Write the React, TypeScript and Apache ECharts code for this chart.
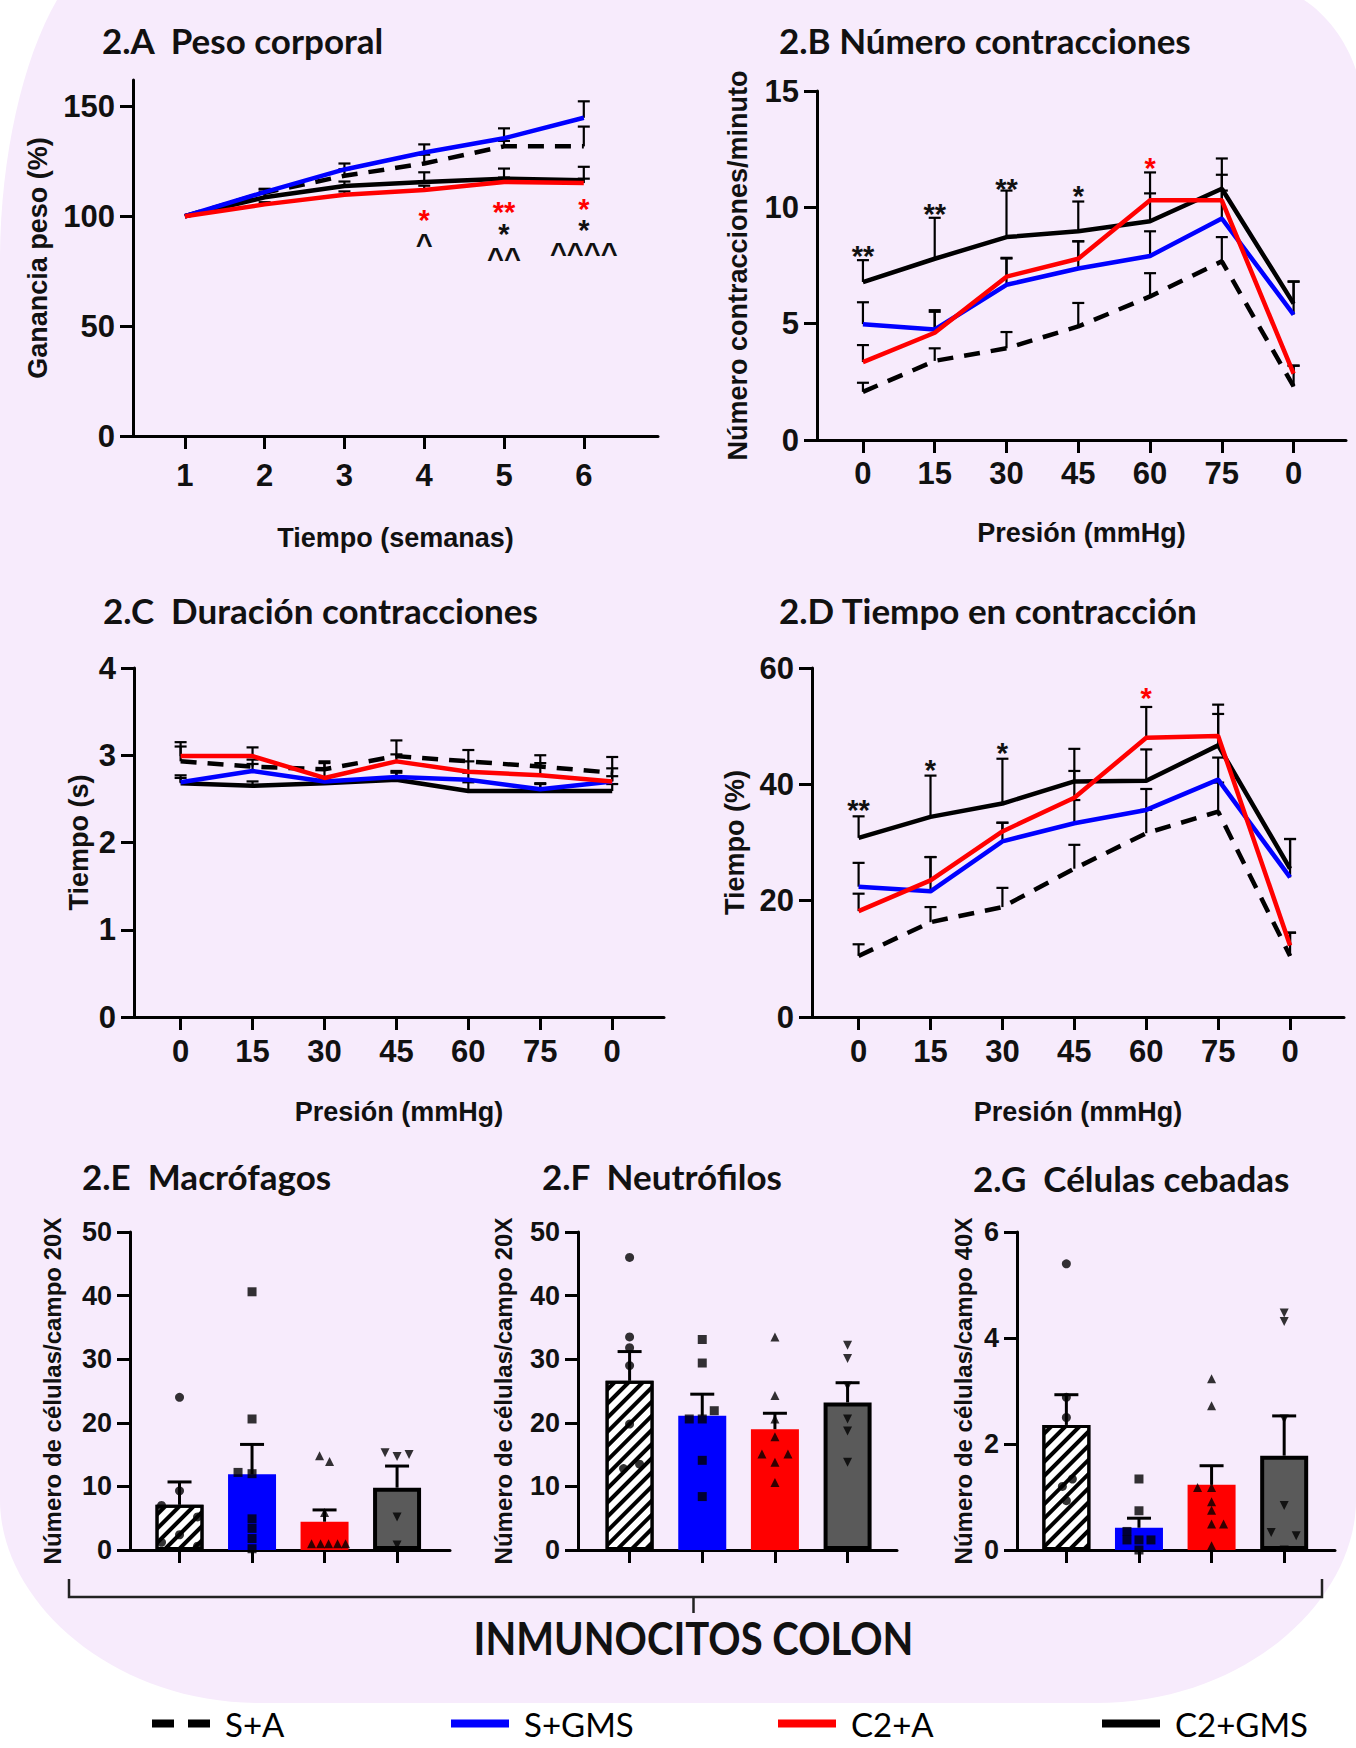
import React, { useEffect, useRef } from "react";
import * as echarts from "echarts";

/* ---------------- categories, ticks ---------------- */
const groupNames = ["S+A", "S+GMS", "C2+A", "C2+GMS"];
const weeks = [1, 2, 3, 4, 5, 6];
const pressureLabels = ["0", "15", "30", "45", "60", "75", "0"];
const pressureIdx = [0, 1, 2, 3, 4, 5, 6];
const barIdx = [0, 1, 2, 3];

const ticksA = [0, 50, 100, 150];
const ticksB = [0, 5, 10, 15];
const ticksC = [0, 1, 2, 3, 4];
const ticksD = [0, 20, 40, 60];
const ticksEF = [0, 10, 20, 30, 40, 50];
const ticksG = [0, 2, 4, 6];

/* ---------------- 2.A Peso corporal (mean, SEM) ---------------- */
const pesoSA = [100, 110.7, 118.4, 124.0, 131.8, 131.8];
const pesoSA_sem = [0, 1.5, 3.0, 4.0, 2.5, 9.0];
const pesoSGMS = [100, 111.0, 121.3, 129.0, 135.5, 144.8];
const pesoSGMS_sem = [0, 1.5, 2.7, 3.7, 4.5, 7.5];
const pesoC2A = [100, 105.4, 109.8, 111.9, 115.6, 115.1];
const pesoC2A_sem = [0, 1.0, 1.5, 2.0, 2.0, 2.0];
const pesoC2GMS = [100, 108.6, 113.8, 115.6, 117.1, 116.4];
const pesoC2GMS_sem = [0, 2.5, 2.0, 4.4, 4.6, 6.1];
const annotA_red = [[4, 101.3, "*"], [5, 105.0, "**"], [6, 106.7, "*"]];
const annotA_black = [[4, 90.7, "^"], [5, 95.0, "*"], [5, 84.0, "^^"], [6, 97.0, "*"], [6, 86.6, "^^^^"]];

/* ---------------- 2.B Número contracciones ---------------- */
const numSA = [2.07, 3.4, 3.94, 4.88, 6.17, 7.68, 2.3];
const numSA_sem = [0.39, 0.54, 0.7, 1.01, 1.0, 1.04, 0.89];
const numSGMS = [4.98, 4.75, 6.67, 7.37, 7.91, 9.52, 5.39];
const numSGMS_sem = [0.94, 0.83, 1.13, 1.17, 1.06, 1.2, 1.41];
const numC2A = [3.35, 4.61, 7.02, 7.79, 10.3, 10.3, 2.85];
const numC2A_sem = [0.73, 0.9, 0.81, 0.75, 1.2, 1.1, 0.35];
const numC2GMS = [6.79, 7.79, 8.72, 8.97, 9.4, 10.8, 5.86];
const numC2GMS_sem = [0.94, 1.76, 2.0, 1.28, 1.2, 1.3, 0.96];
const annotB_black = [[0, 8.2, "**"], [1, 10.0, "**"], [2, 11.1, "**"], [3, 10.8, "*"]];
const annotB_red = [[4, 12.0, "*"]];

/* ---------------- 2.C Duración contracciones ---------------- */
const durSA = [2.93, 2.87, 2.84, 2.99, 2.93, 2.87, 2.80];
const durSA_sem = [0.17, 0.08, 0.09, 0.18, 0.13, 0.13, 0.18];
const durSGMS = [2.69, 2.82, 2.70, 2.75, 2.72, 2.61, 2.70];
const durSGMS_sem = [0.08, 0.08, 0.05, 0.07, 0.08, 0.07, 0.06];
const durC2A = [2.99, 2.99, 2.74, 2.93, 2.81, 2.77, 2.70];
const durC2A_sem = [0.16, 0.1, 0.17, 0.08, 0.12, 0.14, 0.15];
const durC2GMS = [2.68, 2.65, 2.68, 2.72, 2.59, 2.59, 2.59];
const durC2GMS_sem = [0.06, 0.05, 0.05, 0.08, 0.1, 0.08, 0.08];

/* ---------------- 2.D Tiempo en contracción ---------------- */
const tieSA = [10.5, 16.3, 18.9, 25.5, 31.6, 35.3, 10.5];
const tieSA_sem = [2.0, 2.6, 3.3, 4.1, 4.0, 5.0, 4.0];
const tieSGMS = [22.4, 21.6, 30.2, 33.3, 35.6, 40.8, 24.0];
const tieSGMS_sem = [4.1, 5.9, 3.2, 4.0, 3.6, 3.8, 6.6];
const tieC2A = [18.2, 23.5, 31.9, 37.7, 48.0, 48.3, 12.3];
const tieC2A_sem = [3.0, 4.0, 1.5, 4.6, 5.3, 3.8, 2.2];
const tieC2GMS = [30.8, 34.4, 36.7, 40.5, 40.6, 46.7, 25.5];
const tieC2GMS_sem = [3.7, 7.1, 7.7, 5.6, 5.4, 7.0, 5.1];
const annotD_black = [[0, 36.8, "**"], [1, 43.6, "*"], [2, 46.6, "*"]];
const annotD_red = [[4, 56.0, "*"]];

/* ---------------- 2.E Macrófagos ---------------- */
const macroMean = [7.1, 11.9, 4.45, 9.8];
const macroSem = [3.6, 4.7, 1.85, 3.4];
const macroPts = [
  [24.0, 9.3, 7.0, 5.2, 2.4, 1.2, 0.6],
  [40.6, 20.6, 12.2, 12.0, 4.9, 3.4, 1.8, 0.2],
  [14.8, 13.9, 5.9, 1.0, 1.0, 1.0, 1.0, 1.0],
  [15.3, 14.7, 15.0, 5.2, 0.8],
];
const macroJit = [
  [0, 0, -18, 18, 0, -18, 18],
  [0, 0, -14, 0, 0, 0, 0, 0],
  [-5, 5, 0, -13, -4, 4, 13, 21],
  [-12, 0, 12, 0, 0],
];

/* ---------------- 2.F Neutrófilos ---------------- */
const neutroMean = [26.6, 21.1, 19.0, 23.2];
const neutroSem = [4.6, 3.4, 2.5, 3.1];
const neutroPts = [
  [46.0, 33.5, 31.8, 29.0, 19.8, 13.5, 12.8],
  [33.1, 29.4, 21.9, 20.6, 20.6, 14.1, 8.4],
  [33.5, 24.3, 20.6, 17.8, 15.1, 15.1, 13.8, 10.6],
  [32.2, 30.1, 25.8, 20.6, 18.7, 13.8],
];
const neutroJit = [
  [0, 0, 0, 0, 0, 10, -6],
  [0, 0, 12, -13, 0, 0, 0],
  [0, 0, 0, 0, -13, 13, 0, 0],
  [0, 0, 0, 0, 0, 0],
];

/* ---------------- 2.G Células cebadas ---------------- */
const cebMean = [2.36, 0.42, 1.23, 1.78];
const cebSem = [0.57, 0.18, 0.36, 0.75];
const cebPts = [
  [5.4, 2.88, 2.5, 1.34, 1.2, 0.93],
  [1.34, 0.74, 0.35, 0.19, 0.19, 0.19, 0.0],
  [3.23, 2.72, 1.18, 1.18, 0.91, 0.75, 0.49, 0.49, 0.08],
  [4.47, 4.31, 2.47, 0.84, 0.33, 0.27, 0.0],
];
const cebJit = [
  [0, 0, 0, 6, -4, 0],
  [0, 0, -12, -12, 0, 12, 0],
  [0, 0, -14, 0, 0, 0, 0, 12, 0],
  [0, 0, 0, 0, -13, 12, 0],
];

/* ---------------- styles ---------------- */
const BLUE = "#0000ff";
const RED = "#ff0000";
const BLACK = "#000000";
const GREY = "#5a5a5a";
const LAV = "#f7ebfc";
const NUM_FONT = "'Liberation Sans', Arial, Helvetica, sans-serif";
const TITLE_FONT = "Lato, 'Open Sans', sans-serif";
const lineColors = [BLACK, BLUE, RED, BLACK];
const lineTypes: any[] = [[16, 11], "solid", "solid", "solid"];
const legendIcons = ["path://M0,0H22V8H0Z M36,0H58V8H36Z", "rect", "rect", "rect"];
const pointSymbols = ["circle", "rect", "triangle", "triangle"];
const pointRotate = [0, 0, 0, 180];
const hatchDecal = {
  symbol: "rect",
  symbolSize: 1,
  dashArrayX: [1, 0],
  dashArrayY: [4, 6],
  rotation: -Math.PI / 4,
  color: "#000",
  backgroundColor: "#fff",
};
const barStyles: any[] = [
  { color: "#fff", borderColor: "#000", borderWidth: 3, decal: hatchDecal },
  { color: BLUE },
  { color: RED },
  { color: GREY, borderColor: "#000", borderWidth: 4 },
];

const BG_PATH =
  "M57 0 L1304 0 C1326 14 1346 40 1356 70 L1356 1500 C1356 1600 1246 1703 1096 1703 L260 1703 C110 1703 0 1600 0 1500 L0 260 C0 160 22 60 57 0 Z";

const errRender = (capHalf: number, lw: number) => (params: any, api: any) => {
  const x = api.value(0);
  const y = api.value(1);
  const e = api.value(2);
  if (!e) return { type: "group", children: [] };
  const p0 = api.coord([x, y]);
  const p1 = api.coord([x, y + e]);
  const style = { stroke: "#000", lineWidth: lw };
  return {
    type: "group",
    children: [
      { type: "line", shape: { x1: p0[0], y1: p0[1], x2: p1[0], y2: p1[1] }, style },
      { type: "line", shape: { x1: p1[0] - capHalf, y1: p1[1], x2: p1[0] + capHalf, y2: p1[1] }, style },
    ],
  };
};

const annotRender = (list: any[], color: string) => (params: any, api: any) => {
  const a = list[params.dataIndex];
  const p = api.coord([a[0], a[1]]);
  return {
    type: "text",
    x: p[0],
    y: p[1] + 7,
    style: {
      text: a[2],
      fill: color,
      fontFamily: NUM_FONT,
      fontWeight: "bold",
      fontSize: 29,
      lineHeight: 20,
      align: "center",
      verticalAlign: "middle",
    },
  };
};

function buildOption() {
  const grid: any[] = [];
  const xAxis: any[] = [];
  const yAxis: any[] = [];
  const series: any[] = [];

  const axisLine = { show: true, onZero: false, lineStyle: { color: "#000", width: 3 } };
  const tickStyle = { color: "#000", width: 3 };
  const nameStyle = (size: number) => ({ fontFamily: NUM_FONT, fontWeight: "bold", fontSize: size, color: "#111" });

  const linePanels = [
    {
      grid: { left: 133, top: 80, width: 525, height: 356 },
      xMin: 0.35, xMax: 6.93, xs: weeks, fmt: (v: number) => String(Math.round(v)),
      yMax: 162, yTicks: ticksA, xMargin: 24,
      yName: "Ganancia peso (%)", yGap: 82, xName: "Tiempo (semanas)", xGap: 88,
      data: [pesoSA, pesoSGMS, pesoC2A, pesoC2GMS],
      sems: [pesoSA_sem, pesoSGMS_sem, pesoC2A_sem, pesoC2GMS_sem],
      annBlack: annotA_black, annRed: annotA_red,
    },
    {
      grid: { left: 817, top: 91, width: 529, height: 349 },
      xMin: -0.64, xMax: 6.73, xs: pressureIdx, fmt: (v: number) => pressureLabels[Math.round(v)],
      yMax: 15, yTicks: ticksB, xMargin: 18,
      yName: "Número contracciones/minuto", yGap: 66, xName: "Presión (mmHg)", xGap: 79,
      data: [numSA, numSGMS, numC2A, numC2GMS],
      sems: [numSA_sem, numSGMS_sem, numC2A_sem, numC2GMS_sem],
      annBlack: annotB_black, annRed: annotB_red,
    },
    {
      grid: { left: 134, top: 668, width: 530, height: 349 },
      xMin: -0.648, xMax: 6.72, xs: pressureIdx, fmt: (v: number) => pressureLabels[Math.round(v)],
      yMax: 4, yTicks: ticksC, xMargin: 19,
      yName: "Tiempo (s)", yGap: 42, xName: "Presión (mmHg)", xGap: 81,
      data: [durSA, durSGMS, durC2A, durC2GMS],
      sems: [durSA_sem, durSGMS_sem, durC2A_sem, durC2GMS_sem],
      annBlack: [], annRed: [],
    },
    {
      grid: { left: 812, top: 668, width: 532, height: 349 },
      xMin: -0.648, xMax: 6.75, xs: pressureIdx, fmt: (v: number) => pressureLabels[Math.round(v)],
      yMax: 60, yTicks: ticksD, xMargin: 19,
      yName: "Tiempo (%)", yGap: 64, xName: "Presión (mmHg)", xGap: 81,
      data: [tieSA, tieSGMS, tieC2A, tieC2GMS],
      sems: [tieSA_sem, tieSGMS_sem, tieC2A_sem, tieC2GMS_sem],
      annBlack: annotD_black, annRed: annotD_red,
    },
  ];

  const drawOrder = [0, 3, 1, 2];

  linePanels.forEach((p) => {
    const gi = grid.length;
    grid.push({ ...p.grid, containLabel: false, outerBoundsMode: "none" });
    xAxis.push({
      type: "value", gridIndex: gi, min: p.xMin, max: p.xMax,
      axisLine,
      axisTick: { show: true, length: 13, lineStyle: tickStyle, customValues: p.xs },
      axisLabel: {
        customValues: p.xs, formatter: p.fmt, fontFamily: NUM_FONT, fontWeight: "bold",
        fontSize: 31, color: "#111", margin: p.xMargin,
      },
      splitLine: { show: false },
      name: p.xName, nameLocation: "middle", nameGap: p.xGap, nameTextStyle: nameStyle(27),
    });
    yAxis.push({
      type: "value", gridIndex: gi, min: 0, max: p.yMax,
      axisLine,
      axisTick: { show: true, length: 13, lineStyle: tickStyle, customValues: p.yTicks },
      axisLabel: {
        customValues: p.yTicks, fontFamily: NUM_FONT, fontWeight: "bold",
        fontSize: 31, color: "#111", margin: 18,
      },
      splitLine: { show: false },
      name: p.yName, nameLocation: "middle", nameGap: p.yGap, nameTextStyle: nameStyle(27),
    });
    drawOrder.forEach((g) => {
      series.push({
        type: "custom", name: "err " + groupNames[g], xAxisIndex: gi, yAxisIndex: gi, z: 2, silent: true,
        renderItem: errRender(6, 2.2), encode: { x: 0, y: 1 },
        data: p.xs.map((x, i) => [x, p.data[g][i], p.sems[g][i]]),
      });
    });
    drawOrder.forEach((g, k) => {
      series.push({
        type: "line", name: groupNames[g], xAxisIndex: gi, yAxisIndex: gi, z: 3 + k,
        symbol: "none", silent: true,
        lineStyle: { color: lineColors[g], width: 4.5, type: lineTypes[g] },
        itemStyle: { color: lineColors[g] },
        data: p.xs.map((x, i) => [x, p.data[g][i]]),
      });
    });
    if (p.annBlack.length) {
      series.push({
        type: "custom", name: "sig", xAxisIndex: gi, yAxisIndex: gi, z: 8, silent: true,
        renderItem: annotRender(p.annBlack, "#111"), encode: { x: 0, y: 1 },
        data: p.annBlack.map((a: any) => [a[0], a[1]]),
      });
    }
    if (p.annRed.length) {
      series.push({
        type: "custom", name: "sig red", xAxisIndex: gi, yAxisIndex: gi, z: 8, silent: true,
        renderItem: annotRender(p.annRed, RED), encode: { x: 0, y: 1 },
        data: p.annRed.map((a: any) => [a[0], a[1]]),
      });
    }
  });

  const barPanels = [
    {
      grid: { left: 130, top: 1232, width: 320, height: 318 }, xMin: -0.683, xMax: 3.73,
      yMax: 50, yTicks: ticksEF, yName: "Número de células/campo 20X", yGap: 66,
      means: macroMean, sems: macroSem, pts: macroPts, jit: macroJit,
    },
    {
      grid: { left: 578, top: 1232, width: 319, height: 318 }, xMin: -0.71, xMax: 3.68,
      yMax: 50, yTicks: ticksEF, yName: "Número de células/campo 20X", yGap: 63,
      means: neutroMean, sems: neutroSem, pts: neutroPts, jit: neutroJit,
    },
    {
      grid: { left: 1017, top: 1232, width: 318, height: 318 }, xMin: -0.68, xMax: 3.7,
      yMax: 6, yTicks: ticksG, yName: "Número de células/campo 40X", yGap: 42,
      means: cebMean, sems: cebSem, pts: cebPts, jit: cebJit,
    },
  ];

  barPanels.forEach((p) => {
    const gi = grid.length;
    grid.push({ ...p.grid, containLabel: false, outerBoundsMode: "none" });
    xAxis.push({
      type: "value", gridIndex: gi, min: p.xMin, max: p.xMax,
      axisLine,
      axisTick: { show: true, length: 13, lineStyle: tickStyle, customValues: barIdx },
      axisLabel: { show: false },
      splitLine: { show: false },
    });
    yAxis.push({
      type: "value", gridIndex: gi, min: 0, max: p.yMax,
      axisLine,
      axisTick: { show: true, length: 13, lineStyle: tickStyle, customValues: p.yTicks },
      axisLabel: {
        customValues: p.yTicks, fontFamily: NUM_FONT, fontWeight: "bold",
        fontSize: 27, color: "#111", margin: 18,
      },
      splitLine: { show: false },
      name: p.yName, nameLocation: "middle", nameGap: p.yGap, nameTextStyle: nameStyle(24),
    });
    series.push({
      type: "bar", name: "Inmunocitos", xAxisIndex: gi, yAxisIndex: gi, barWidth: 48, z: 2, silent: true,
      data: p.means.map((m, i) => ({ value: [barIdx[i], m], itemStyle: barStyles[i] })),
    });
    series.push({
      type: "custom", name: "err bar", xAxisIndex: gi, yAxisIndex: gi, z: 3, silent: true,
      renderItem: errRender(12, 3), encode: { x: 0, y: 1 },
      data: barIdx.map((i) => [i, p.means[i], p.sems[i]]),
    });
    barIdx.forEach((g) => {
      series.push({
        type: "scatter", name: "pts " + groupNames[g], xAxisIndex: gi, yAxisIndex: gi, z: 4, silent: true,
        symbol: pointSymbols[g], symbolRotate: pointRotate[g], symbolSize: 9,
        itemStyle: { color: "#000" },
        data: p.pts[g].map((v, j) => ({ value: [g, v], symbolOffset: [p.jit[g][j], 0] })),
      });
    });
  });

  const legendLeft = [147, 446, 773, 1097];
  const legend = groupNames.map((n, i) => ({
    data: [n], left: legendLeft[i], top: 1702, orient: "horizontal",
    icon: legendIcons[i],
    itemWidth: 58, itemHeight: 8, itemGap: 0, selectedMode: false,
    itemStyle: { color: lineColors[i], borderWidth: 0 },
    textStyle: { fontFamily: TITLE_FONT, fontSize: 33, color: "#000", padding: [0, 0, 0, 10] },
  }));

  const titles: [string, number, number][] = [
    ["2.A  Peso corporal", 102, 40],
    ["2.B Número contracciones", 779, 40],
    ["2.C  Duración contracciones", 103, 610],
    ["2.D Tiempo en contracción", 779, 610],
    ["2.E  Macrófagos", 82, 1176],
    ["2.F  Neutrófilos", 542, 1176],
    ["2.G  Células cebadas", 973, 1178],
  ];

  const graphic: any[] = [
    { type: "bgshape", x: 0, y: 0, z: -100, silent: true, style: { fill: LAV } },
    ...titles.map(([t, x, y]) => ({
      type: "text", x, y, z: 10, silent: true,
      style: { text: t, fill: "#111", fontFamily: TITLE_FONT, fontWeight: "bold", fontSize: 35, align: "left", verticalAlign: "middle" },
    })),
    {
      type: "polyline", z: 10, silent: true,
      shape: { points: [[69, 1579], [69, 1597], [1322, 1597], [1322, 1579]] },
      style: { stroke: "#222", lineWidth: 2.5, fill: null },
    },
    {
      type: "line", z: 10, silent: true,
      shape: { x1: 693.5, y1: 1597, x2: 693.5, y2: 1613 },
      style: { stroke: "#222", lineWidth: 2.5 },
    },
    {
      type: "text", x: 693.5, y: 1637, z: 10, scaleX: 0.87, silent: true,
      style: { text: "INMUNOCITOS COLON", fill: "#111", fontFamily: TITLE_FONT, fontWeight: "bold", fontSize: 46, align: "center", verticalAlign: "middle" },
    },
  ];

  return {
    animation: false,
    backgroundColor: "#ffffff",
    textStyle: { fontFamily: NUM_FONT },
    grid, xAxis, yAxis, series, legend, graphic,
  };
}

export default function App() {
  const ref = useRef<HTMLDivElement>(null);
  useEffect(() => {
    document.body.style.margin = "0";
    document.body.style.overflow = "hidden";
    echarts.graphic.registerShape("bgshape", echarts.graphic.extendPath(BG_PATH, {}) as any);
    const chart = echarts.init(ref.current as HTMLDivElement, null, { renderer: "svg", width: 1356, height: 1748 });
    chart.setOption(buildOption() as any);
    return () => chart.dispose();
  }, []);
  return <div ref={ref} style={{ width: 1356, height: 1748 }} />;
}
